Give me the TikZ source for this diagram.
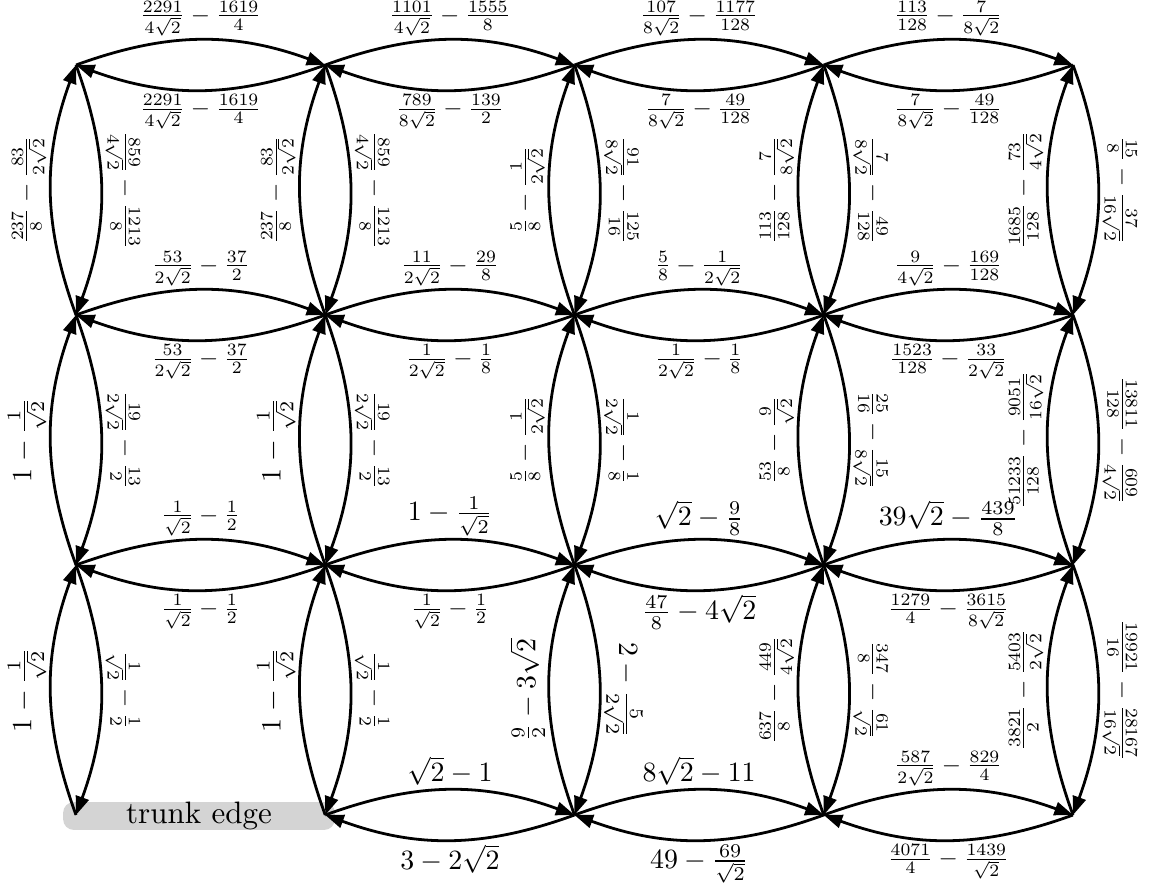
\documentclass[tikz,border=0pt]{standalone}
\usetikzlibrary{arrows.meta}
\newcommand{\Ls}[1]{\scalebox{0.8}{$#1$}}
\newcommand{\Lb}[1]{\scalebox{0.9}{$#1$}}
\newcommand{\rtt}{\sqrt{2}}
\begin{document}
\begin{tikzpicture}[x=0.3226pt,y=0.3226pt,
  arcedge/.style={line width=0.9pt,-{Triangle[length=6pt,width=4.3pt]},bend left=20},
  hup/.style={midway,anchor=south,inner sep=1pt},
  hdn/.style={midway,anchor=north,inner sep=1pt},
  vlf/.style={midway,anchor=south,rotate=90,inner sep=1pt},
  vrt/.style={midway,anchor=south,rotate=-90,inner sep=1pt},
  trunkbox/.style={fill=black!17,rounded corners=3.5pt,inner sep=0pt,minimum width=87.7pt,minimum height=8.6pt}]
\useasboundingbox (0,0) rectangle (1151,-886);
\foreach \c/\x in {0/76,1/325.25,2/574.5,3/823.75,4/1073}
  \foreach \r/\y in {0/-65,1/-315,2/-565,3/-815}
    \coordinate (v\c\r) at (\x,\y);
\node[trunkbox] (trunk) at (199,-816) {trunk edge};
% row 0
\draw[arcedge] (v00) to node[hup]{\Ls{\frac{2291}{4\rtt}-\frac{1619}{4}}} (v10);
\draw[arcedge] (v10) to node[hdn]{\Ls{\frac{2291}{4\rtt}-\frac{1619}{4}}} (v00);
\draw[arcedge] (v10) to node[hup]{\Ls{\frac{1101}{4\rtt}-\frac{1555}{8}}} (v20);
\draw[arcedge] (v20) to node[hdn]{\Ls{\frac{789}{8\rtt}-\frac{139}{2}}} (v10);
\draw[arcedge] (v20) to node[hup]{\Ls{\frac{107}{8\rtt}-\frac{1177}{128}}} (v30);
\draw[arcedge] (v30) to node[hdn]{\Ls{\frac{7}{8\rtt}-\frac{49}{128}}} (v20);
\draw[arcedge] (v30) to node[hup]{\Ls{\frac{113}{128}-\frac{7}{8\rtt}}} (v40);
\draw[arcedge] (v40) to node[hdn]{\Ls{\frac{7}{8\rtt}-\frac{49}{128}}} (v30);
% row 1
\draw[arcedge] (v01) to node[hup]{\Ls{\frac{53}{2\rtt}-\frac{37}{2}}} (v11);
\draw[arcedge] (v11) to node[hdn]{\Ls{\frac{53}{2\rtt}-\frac{37}{2}}} (v01);
\draw[arcedge] (v11) to node[hup]{\Ls{\frac{11}{2\rtt}-\frac{29}{8}}} (v21);
\draw[arcedge] (v21) to node[hdn]{\Ls{\frac{1}{2\rtt}-\frac{1}{8}}} (v11);
\draw[arcedge] (v21) to node[hup]{\Ls{\frac{5}{8}-\frac{1}{2\rtt}}} (v31);
\draw[arcedge] (v31) to node[hdn]{\Ls{\frac{1}{2\rtt}-\frac{1}{8}}} (v21);
\draw[arcedge] (v31) to node[hup]{\Ls{\frac{9}{4\rtt}-\frac{169}{128}}} (v41);
\draw[arcedge] (v41) to node[hdn]{\Ls{\frac{1523}{128}-\frac{33}{2\rtt}}} (v31);
% row 2
\draw[arcedge] (v02) to node[hup]{\Ls{\frac{1}{\rtt}-\frac{1}{2}}} (v12);
\draw[arcedge] (v12) to node[hdn]{\Ls{\frac{1}{\rtt}-\frac{1}{2}}} (v02);
\draw[arcedge] (v12) to node[hup]{\Lb{1-\frac{1}{\rtt}}} (v22);
\draw[arcedge] (v22) to node[hdn]{\Ls{\frac{1}{\rtt}-\frac{1}{2}}} (v12);
\draw[arcedge] (v22) to node[hup]{\Lb{\rtt-\frac{9}{8}}} (v32);
\draw[arcedge] (v32) to node[hdn]{\Lb{\frac{47}{8}-4\rtt}} (v22);
\draw[arcedge] (v32) to node[hup]{\Lb{39\rtt-\frac{439}{8}}} (v42);
\draw[arcedge] (v42) to node[hdn]{\Ls{\frac{1279}{4}-\frac{3615}{8\rtt}}} (v32);
% row 3
\draw[arcedge] (v13) to node[hup]{\Lb{\rtt-1}} (v23);
\draw[arcedge] (v23) to node[hdn]{\Lb{3-2\rtt}} (v13);
\draw[arcedge] (v23) to node[hup]{\Lb{8\rtt-11}} (v33);
\draw[arcedge] (v33) to node[hdn]{\Lb{49-\frac{69}{\rtt}}} (v23);
\draw[arcedge] (v33) to node[hup]{\Ls{\frac{587}{2\rtt}-\frac{829}{4}}} (v43);
\draw[arcedge] (v43) to node[hdn]{\Ls{\frac{4071}{4}-\frac{1439}{\rtt}}} (v33);
% column 0
\draw[arcedge] (v01) to node[vlf]{\Ls{\frac{237}{8}-\frac{83}{2\rtt}}} (v00);
\draw[arcedge] (v00) to node[vrt]{\Ls{\frac{859}{4\rtt}-\frac{1213}{8}}} (v01);
\draw[arcedge] (v02) to node[vlf]{\Lb{1-\frac{1}{\rtt}}} (v01);
\draw[arcedge] (v01) to node[vrt]{\Ls{\frac{19}{2\rtt}-\frac{13}{2}}} (v02);
\draw[arcedge] (v03) to node[vlf]{\Lb{1-\frac{1}{\rtt}}} (v02);
\draw[arcedge] (v02) to node[vrt]{\Ls{\frac{1}{\rtt}-\frac{1}{2}}} (v03);
% column 1
\draw[arcedge] (v11) to node[vlf]{\Ls{\frac{237}{8}-\frac{83}{2\rtt}}} (v10);
\draw[arcedge] (v10) to node[vrt]{\Ls{\frac{859}{4\rtt}-\frac{1213}{8}}} (v11);
\draw[arcedge] (v12) to node[vlf]{\Lb{1-\frac{1}{\rtt}}} (v11);
\draw[arcedge] (v11) to node[vrt]{\Ls{\frac{19}{2\rtt}-\frac{13}{2}}} (v12);
\draw[arcedge] (v13) to node[vlf]{\Lb{1-\frac{1}{\rtt}}} (v12);
\draw[arcedge] (v12) to node[vrt]{\Ls{\frac{1}{\rtt}-\frac{1}{2}}} (v13);
% column 2
\draw[arcedge] (v21) to node[vlf]{\Ls{\frac{5}{8}-\frac{1}{2\rtt}}} (v20);
\draw[arcedge] (v20) to node[vrt]{\Ls{\frac{91}{8\rtt}-\frac{125}{16}}} (v21);
\draw[arcedge] (v22) to node[vlf]{\Ls{\frac{5}{8}-\frac{1}{2\rtt}}} (v21);
\draw[arcedge] (v21) to node[vrt]{\Ls{\frac{1}{2\rtt}-\frac{1}{8}}} (v22);
\draw[arcedge] (v23) to node[vlf]{\Lb{\frac{9}{2}-3\rtt}} (v22);
\draw[arcedge] (v22) to node[vrt]{\Lb{2-\frac{5}{2\rtt}}} (v23);
% column 3
\draw[arcedge] (v31) to node[vlf]{\Ls{\frac{113}{128}-\frac{7}{8\rtt}}} (v30);
\draw[arcedge] (v30) to node[vrt]{\Ls{\frac{7}{8\rtt}-\frac{49}{128}}} (v31);
\draw[arcedge] (v32) to node[vlf]{\Ls{\frac{53}{8}-\frac{9}{\rtt}}} (v31);
\draw[arcedge] (v31) to node[vrt]{\Ls{\frac{25}{16}-\frac{15}{8\rtt}}} (v32);
\draw[arcedge] (v33) to node[vlf]{\Ls{\frac{637}{8}-\frac{449}{4\rtt}}} (v32);
\draw[arcedge] (v32) to node[vrt]{\Ls{\frac{347}{8}-\frac{61}{\rtt}}} (v33);
% column 4
\draw[arcedge] (v41) to node[vlf]{\Ls{\frac{1685}{128}-\frac{73}{4\rtt}}} (v40);
\draw[arcedge] (v40) to node[vrt]{\Ls{\frac{15}{8}-\frac{37}{16\rtt}}} (v41);
\draw[arcedge] (v42) to node[vlf]{\Ls{\frac{51233}{128}-\frac{9051}{16\rtt}}} (v41);
\draw[arcedge] (v41) to node[vrt]{\Ls{\frac{13811}{128}-\frac{609}{4\rtt}}} (v42);
\draw[arcedge] (v43) to node[vlf]{\Ls{\frac{3821}{2}-\frac{5403}{2\rtt}}} (v42);
\draw[arcedge] (v42) to node[vrt]{\Ls{\frac{19921}{16}-\frac{28167}{16\rtt}}} (v43);
\end{tikzpicture}
\end{document}
